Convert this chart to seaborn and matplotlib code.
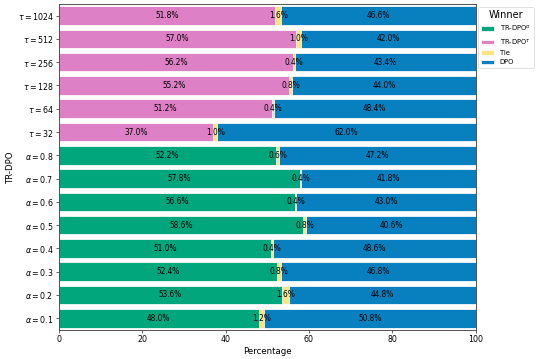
import matplotlib
matplotlib.use("Agg")
import matplotlib.pyplot as plt
import seaborn as sns
import pandas as pd
import numpy as np
from matplotlib.patches import Patch

categories = [r"$\tau = 1024$", r"$\tau = 512$", r"$\tau = 256$", r"$\tau = 128$",
              r"$\tau = 64$", r"$\tau = 32$",
              r"$\alpha = 0.8$", r"$\alpha = 0.7$", r"$\alpha = 0.6$", r"$\alpha = 0.5$",
              r"$\alpha = 0.4$", r"$\alpha = 0.3$", r"$\alpha = 0.2$", r"$\alpha = 0.1$"]
is_tau = [True] * 6 + [False] * 8
tr_win = [51.8, 57.0, 56.2, 55.2, 51.2, 37.0,
          52.2, 57.8, 56.6, 58.6, 51.0, 52.4, 53.6, 48.0]
tie = [1.6, 1.0, 0.4, 0.8, 0.4, 1.0,
       0.6, 0.4, 0.4, 0.8, 0.4, 0.8, 1.6, 1.2]
dpo_win = [46.6, 42.0, 43.4, 44.0, 48.4, 62.0,
           47.2, 41.8, 43.0, 40.6, 48.6, 46.8, 44.8, 50.8]
legend_labels = [r"TR-DPO$^\alpha$", r"TR-DPO$^\tau$", "Tie", "DPO"]

c_alpha = "#01a67c"
c_tau = "#de80c6"
c_tie = "#fde480"
c_dpo = "#0880c0"

df = pd.DataFrame({"cat": categories, "tr": tr_win, "tie": tie, "dpo": dpo_win, "tau": is_tau})
df["c1"] = df["tr"] + df["tie"]
df["c2"] = df["c1"] + df["dpo"]

fig = plt.figure(figsize=(10, 359 / 54), dpi=54)
ax = fig.add_axes([0.109, 0.081, 0.772, 0.908])

ekw = dict(edgecolor="white", linewidth=1, width=0.8, saturation=1)
sns.barplot(data=df, x="c2", y="cat", order=categories, color=c_dpo, orient="h", ax=ax, **ekw)
sns.barplot(data=df, x="c1", y="cat", order=categories, color=c_tie, orient="h", ax=ax, **ekw)
tr_colors = [c_tau if t else c_alpha for t in is_tau]
sns.barplot(data=df, x="tr", y="cat", order=categories, hue="cat", hue_order=categories,
            palette=dict(zip(categories, tr_colors)), orient="h", ax=ax, legend=False, **ekw)

fs = 10
for i, row in df.iterrows():
    ax.text(row["tr"] / 2, i, f"{row['tr']:.1f}%", ha="center", va="center", fontsize=fs)
    ax.text(row["tr"] + row["tie"] / 2, i, f"{row['tie']:.1f}%", ha="center", va="center", fontsize=fs)
    ax.text(row["c1"] + row["dpo"] / 2, i, f"{row['dpo']:.1f}%", ha="center", va="center", fontsize=fs)

ax.set_xlim(0, 100)
ax.set_ylim(len(categories) - 0.5, -0.5)
ax.set_xlabel("Percentage", fontsize=11.5)
ax.set_ylabel("TR-DPO", fontsize=11.5)
ax.tick_params(labelsize=10.5)
ax.set_xticks([0, 20, 40, 60, 80, 100])
for s in ax.spines.values():
    s.set_color("#444444")
    s.set_linewidth(1.2)

handles = [Patch(facecolor=c, edgecolor="white") for c in [c_alpha, c_tau, c_tie, c_dpo]]
leg = ax.legend(handles, legend_labels, title="Winner", loc="upper left",
                bbox_to_anchor=(1.006, 0.99), fontsize=9, title_fontsize=13,
                borderaxespad=0)

fig.savefig("out.png", dpi=54)
